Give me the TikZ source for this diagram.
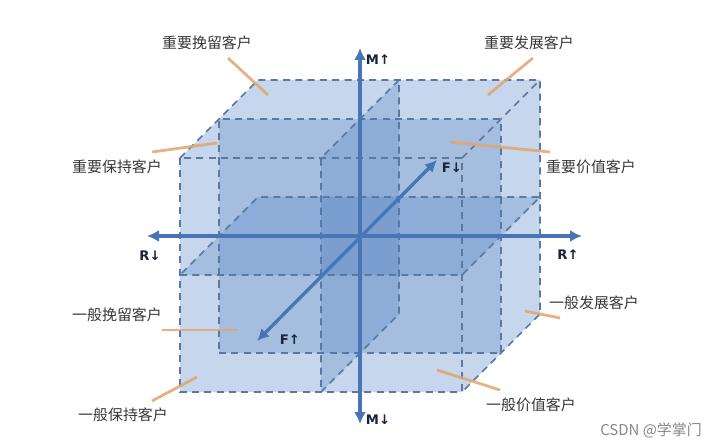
\documentclass[tikz,border=0pt]{standalone}
\usepackage{fontspec}
\usepackage{xcolor}
\usepackage{tikz}
\newfontfamily\cjk{Noto Sans CJK SC}
\newfontfamily\axfont{DejaVu Sans}
\usetikzlibrary{arrows.meta}
\definecolor{cubefill}{RGB}{198,214,236}
\definecolor{planefill}{RGB}{70,120,190}
\definecolor{edgeblue}{RGB}{90,120,160}
\definecolor{axisblue}{RGB}{72,118,180}
\definecolor{leader}{RGB}{225,165,110}
\definecolor{labelgray}{RGB}{55,55,55}
\definecolor{axislabel}{RGB}{25,35,60}
\definecolor{markgray}{RGB}{135,135,135}

\begin{document}
\begin{tikzpicture}[
    plane/.style={fill=planefill, fill opacity=0.25},
    edge/.style={draw=edgeblue, dash pattern=on 4pt off 3pt, line width=0.9pt},
    axis/.style={axisblue, line width=1.9pt, {Latex[length=2.4mm,width=2.4mm]}-{Latex[length=2.4mm,width=2.4mm]}},
    axlabel/.style={font=\axfont\bfseries\fontsize{7.5}{9}\selectfont, text=axislabel},
    seg/.style={font=\cjk\fontsize{8.5}{10}\selectfont, text=labelgray},
    pointer/.style={leader, line width=1.6pt, opacity=0.85}
]
    \useasboundingbox (0,0) rectangle (14.3,8.92);

    % RFM cube, unit box drawn in oblique view
    \begin{scope}[shift={(3.6,1.08)}, x=5.64cm, y=4.68cm, z={(1.56cm,1.56cm)}]
        \fill[cubefill] (0,0,0) -- (1,0,0) -- (1,0,1) -- (1,1,1) -- (0,1,1) -- (0,1,0) -- cycle;
        \path[plane, edge] (0,0,.5) -- (1,0,.5) -- (1,1,.5) -- (0,1,.5) -- cycle;
        \path[plane, edge] (.5,0,0) -- (.5,0,1) -- (.5,1,1) -- (.5,1,0) -- cycle;
        \path[plane, edge] (0,.5,0) -- (1,.5,0) -- (1,.5,1) -- (0,.5,1) -- cycle;
        \draw[edge] (0,1,0) -- (0,0,0) -- (1,0,0) -- (1,1,0) -- cycle;
        \draw[edge] (0,1,0) -- (0,1,1) -- (1,1,1) -- (1,0,1) -- (1,0,0);
        \draw[edge] (1,1,0) -- (1,1,1);
    \end{scope}

    % axes
    \coordinate (Mtop) at (7.2,7.96);
    \coordinate (Mbot) at (7.2,0.44);
    \coordinate (Rleft) at (2.94,4.2);
    \coordinate (Rright) at (11.64,4.2);
    \coordinate (Fback) at (8.74,5.72);
    \coordinate (Ffront) at (5.14,2.1);
    \draw[axis] (Mbot) -- (Mtop);
    \draw[axis] (Rleft) -- (Rright);
    \draw[axis] (Ffront) -- (Fback);

    \node[axlabel] (mup) at (7.56,7.72) {M↑};
    \node[axlabel] (mdown) at (7.56,0.52) {M↓};
    \node[axlabel] (rdown) at (3.0,3.8) {R↓};
    \node[axlabel] (rup) at (11.36,3.82) {R↑};
    \node[axlabel] (fdown) at (9.04,5.56) {F↓};
    \node[axlabel] (fup) at (5.8,2.12) {F↑};

    % customer segments
    \node[seg] (keepback) at (4.14,8.06) {重要挽留客户};
    \node[seg] (devtop) at (10.58,8.06) {重要发展客户};
    \node[seg] (holdtop) at (2.34,5.58) {重要保持客户};
    \node[seg] (valtop) at (11.82,5.58) {重要价值客户};
    \node[seg] (keeplow) at (2.34,2.62) {一般挽留客户};
    \node[seg] (holdlow) at (2.46,0.62) {一般保持客户};
    \node[seg] (devlow) at (11.88,2.86) {一般发展客户};
    \node[seg] (vallow) at (10.62,0.82) {一般价值客户};

    \coordinate (a1) at (4.56,7.76);  \coordinate (b1) at (5.36,7.02);
    \coordinate (a2) at (10.66,7.76); \coordinate (b2) at (9.76,7.02);
    \coordinate (a3) at (3.04,5.88);  \coordinate (b3) at (4.34,6.06);
    \coordinate (a4) at (11.0,5.88);  \coordinate (b4) at (9.0,6.08);
    \coordinate (a5) at (3.24,2.32);  \coordinate (b5) at (4.76,2.32);
    \coordinate (a6) at (3.04,0.9);   \coordinate (b6) at (3.94,1.38);
    \coordinate (a7) at (11.2,2.56);  \coordinate (b7) at (10.5,2.7);
    \coordinate (a8) at (10.0,1.12);  \coordinate (b8) at (8.74,1.52);
    \foreach \i in {1,...,8}
        \draw[pointer] (a\i) -- (b\i);

    \node[font=\cjk\fontsize{8.5}{10}\selectfont, text=markgray] (mark) at (13.02,0.32) {CSDN @学掌门};
\end{tikzpicture}
\end{document}
